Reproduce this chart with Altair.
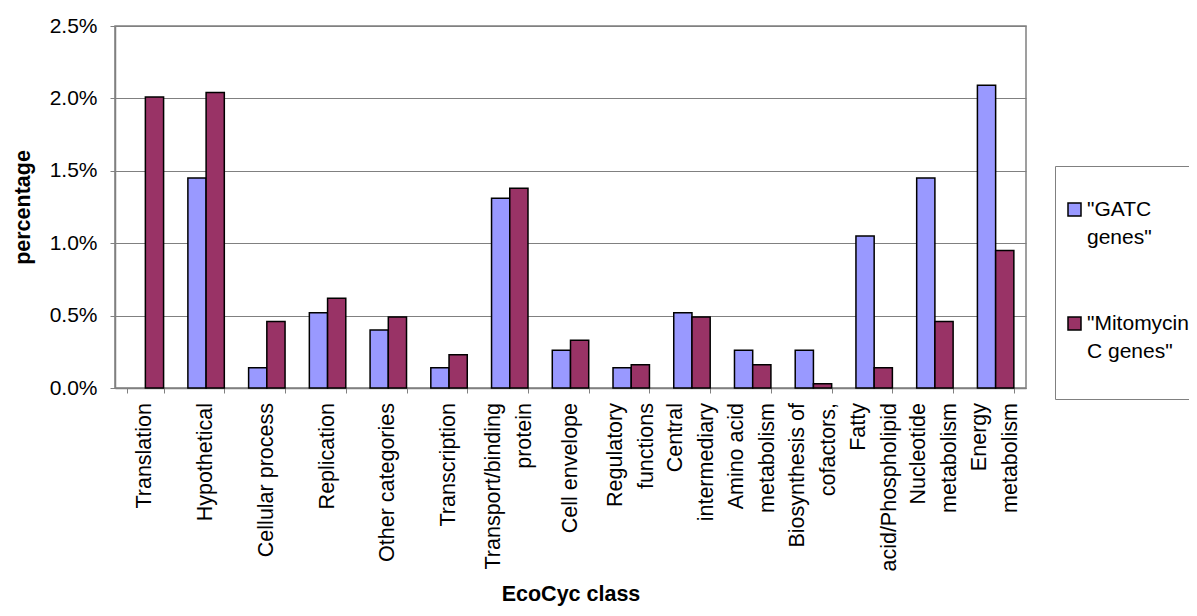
import altair as alt
import pandas as pd

categories = [
    "Translation", "Hypothetical", "Cellular process", "Replication",
    "Other categories", "Transcription", "Transport/binding|protein",
    "Cell envelope", "Regulatory|functions", "Central|intermediary",
    "Amino acid|metabolism", "Biosynthesis of|cofactors,",
    "Fatty|acid/Phospholipid", "Nucleotide|metabolism", "Energy|metabolism",
]
gatc = [0.0, 1.45, 0.14, 0.52, 0.40, 0.14, 1.31, 0.26, 0.14, 0.52, 0.26, 0.26, 1.05, 1.45, 2.09]
mito = [2.01, 2.04, 0.46, 0.62, 0.49, 0.23, 1.38, 0.33, 0.16, 0.49, 0.16, 0.03, 0.14, 0.46, 0.95]
series = ['"GATC genes"', '"Mitomycin C genes"']
colors = ["#9999FF", "#993366"]
y_ticks = [0.0, 0.5, 1.0, 1.5, 2.0, 2.5]

rows = []
for c, g, m in zip(categories, gatc, mito):
    rows.append({"category": c, "series": series[0], "value": g})
    rows.append({"category": c, "series": series[1], "value": m})
df = pd.DataFrame(rows)
labels_df = pd.DataFrame({"category": categories})

FONT = "Liberation Sans"
GRAY = "#808080"

x_enc = alt.X(
    "category:N",
    sort=categories,
    scale=alt.Scale(domain=categories, paddingInner=0.4, paddingOuter=0.2),
    axis=alt.Axis(
        title="EcoCyc class",
        labels=False,
        tickBand="extent",
        tickSize=5,
        titlePadding=190,
        grid=False,
    ),
)
y_enc = alt.Y(
    "value:Q",
    scale=alt.Scale(domain=[0, 2.5], nice=False),
    axis=alt.Axis(
        title="percentage",
        values=y_ticks,
        labelExpr="format(datum.value, '.1f') + '%'",
        labelFontSize=21,
        labelPadding=13,
        tickSize=5,
        titlePadding=15,
        grid=True,
    ),
)

bars = alt.Chart(df).transform_filter(
    "datum.value > 0"
).mark_bar(stroke="black", strokeWidth=1.5).encode(
    x=x_enc,
    xOffset=alt.XOffset(
        "series:N", sort=series,
        scale=alt.Scale(domain=series, paddingInner=0, paddingOuter=0),
    ),
    y=y_enc,
    color=alt.Color(
        "series:N",
        scale=alt.Scale(domain=series, range=colors),
        legend=alt.Legend(
            title=" ",
            titleFontSize=12,
            titlePadding=12,
            orient="none",
            legendX=940,
            legendY=140,
            strokeColor=GRAY,
            padding=9,
            symbolType="square",
            symbolSize=169,
            symbolStrokeColor="black",
            symbolStrokeWidth=1.5,
            symbolOpacity=1,
            labelFontSize=21,
            labelOffset=2,
            labelLimit=200,
            labelExpr="[slice(datum.label, 0, indexof(datum.label, ' ')), slice(datum.label, indexof(datum.label, ' ') + 1), '']",
            rowPadding=36,
            labelFont=FONT,
            labelColor="black",
        ),
    ),
)

label_base = alt.Chart(labels_df).encode(
    x=alt.X("category:N", sort=categories),
    y=alt.datum(0),
    text="category:N",
)
text_kw = dict(angle=270, align="right", baseline="middle", lineBreak="|",
               lineHeight=31, font=FONT, fontSize=21.5, color="black", dx=-15)
labels_one = label_base.transform_filter(
    "indexof(datum.category, '|') < 0"
).mark_text(**text_kw)
labels_two = label_base.transform_filter(
    "indexof(datum.category, '|') >= 0"
).mark_text(dy=-15.5, **text_kw)

chart = alt.layer(bars, labels_one, labels_two).properties(
    width=911,
    height=362,
    autosize=alt.AutoSizeParams(type="none"),
    padding={"left": 107, "top": 18, "right": 163, "bottom": 220},
).configure(
    style={"guide-label": {"lineHeight": 28}}
).configure_view(
    stroke=GRAY, strokeWidth=1.5
).configure_axis(
    labelFont=FONT, titleFont=FONT, labelColor="black", titleColor="black",
    titleFontSize=21.5, titleFontWeight="bold",
    domainColor=GRAY, domainWidth=1.5, tickColor=GRAY, gridColor=GRAY, gridWidth=1,
)

chart.save("out.html", embed_options={"renderer": "svg", "actions": False})
